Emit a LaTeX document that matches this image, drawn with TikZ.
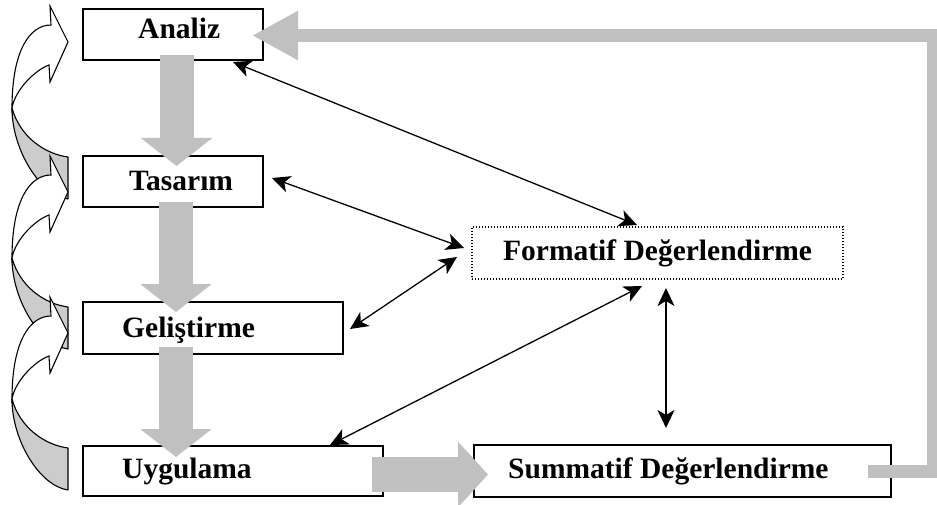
\documentclass[tikz,border=0pt]{standalone}
\usepackage{fontspec}
\setmainfont{Liberation Serif}
\usetikzlibrary{arrows.meta,calc}
\definecolor{blockgray}{RGB}{192,192,192}
\definecolor{backgray}{RGB}{204,204,204}
\tikzset{
  curarr/.pic={
    \filldraw[fill=backgray,draw=black,line width=1.1pt,line join=round]
      (-56,66) .. controls (-48,95) and (-23,112) .. (0,115) -- (0,157)
      .. controls (-28,153) and (-56,108) .. (-56,66) -- cycle;
    \filldraw[fill=white,draw=black,line width=1.1pt,line join=miter]
      (-17,-17) -- (-18,-36) -- (0,0) -- (-18,40) -- (-19,23)
      .. controls (-33,28) and (-53,48) .. (-56,66)
      .. controls (-56,8) and (-38,-17) .. (-17,-17) -- cycle;
  }
}
\begin{document}
\begin{tikzpicture}[x=1pt,y=-1pt,
  box/.style={draw=black,line width=1.2pt,inner sep=0pt,outer sep=0pt},
  dotbox/.style={draw=black,line width=1.4pt,dash pattern=on 1.4pt off 1.6pt,inner sep=0pt,outer sep=0pt},
  lbl/.style={font=\fontsize{29.5}{34}\selectfont\bfseries,inner sep=0pt,anchor=base west},
  dbl/.style={line width=1.3pt,{Stealth[length=18pt,width=17pt,inset=5pt]}-{Stealth[length=18pt,width=17pt,inset=5pt]}},
  downarr/.style={draw=blockgray,line width=34pt,-{Triangle[length=28pt,width=70pt]}},
  rightarr/.style={draw=blockgray,line width=35pt,-{Triangle[length=30pt,width=64pt]}},
  backarr/.style={draw=blockgray,line width=13pt,line join=miter,-{Triangle[length=46pt,width=46pt]}}
]
\useasboundingbox (0,0) rectangle (937,505);
\fill[white] (0,0) rectangle (937,505);

% boxes
\node[box,minimum width=180pt,minimum height=51pt] (ana) at (173,34.5) {};
\node[box,minimum width=180pt,minimum height=51pt] (tas) at (173,181.5) {};
\node[box,minimum width=260pt,minimum height=52pt] (gel) at (213,328) {};
\node[box,minimum width=300pt,minimum height=50pt] (uyg) at (233,471) {};
\node[dotbox,minimum width=371pt,minimum height=52pt] (fmt) at (657.5,253) {};
\node[box,minimum width=417pt,minimum height=52pt] (sum) at (682.5,471) {};

% labels
\node[lbl] (tana) at (138,39) {Analiz};
\node[lbl] (ttas) at (129,191) {Tasarım};
\node[lbl] (tgel) at (122,337) {Geliştirme};
\node[lbl] (tuyg) at (122,478) {Uygulama};
\node[lbl] (tfmt) at (503,260) {Formatif Değerlendirme};
\node[lbl] (tsum) at (508,478) {Summatif Değerlendirme};

% left curved arrows
\pic at (68,42) {curarr};
\pic at (68,192) {curarr};
\pic at (68,333) {curarr};

% gray block arrows
\draw[downarr] ($(ana.south)+(3.5,-5)$) -- ($(tas.north)+(3.5,10)$);
\draw[downarr] ($(tas.south)+(3,-5)$) -- ($(gel.north)+(-37,10)$);
\draw[downarr] ($(gel.south)+(-37,-7)$) -- ($(uyg.north)+(-57,11)$);
\draw[rightarr] ($(uyg.east)+(-11,3.5)$) -- ($(sum.west)+(14,3.5)$);

% feedback line
\coordinate (fbR) at (933,0);
\coordinate (fbs) at ($(sum.east)+(-23,0)$);
\coordinate (fbt) at ($(ana.east)+(-11,1)$);
\draw[backarr] (fbs) -- (fbs -| fbR) -- (fbt -| fbR) -- (fbt);

% black double arrows
\draw[dbl] ($(ana.south east)+(-30,2)$) -- ($(fmt.north)+(-20.5,-2)$);
\draw[dbl] ($(tas.east)+(9,-3.5)$) -- ($(fmt.west)+(-8,-5)$);
\draw[dbl] ($(gel.east)+(7,1)$) -- ($(fmt.west)+(-15,4)$);
\draw[dbl] ($(uyg.north)+(97,-1)$) -- ($(fmt.south)+(-15.5,7)$);
\draw[dbl] ($(fmt.south)+(8.5,9)$) -- ($(sum.north)+(-16.5,-17)$);
\end{tikzpicture}
\end{document}
